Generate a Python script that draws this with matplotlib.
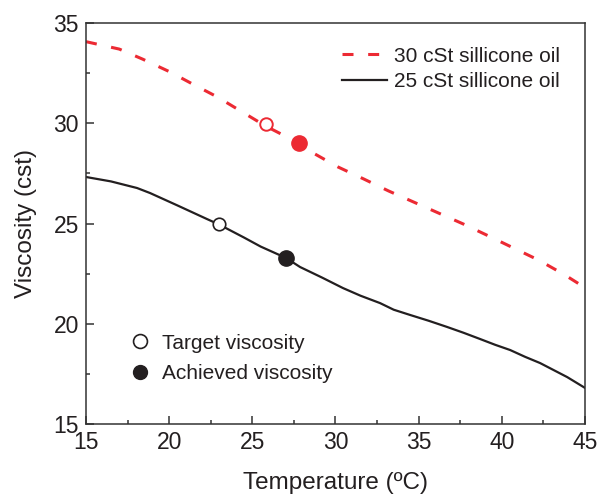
import numpy as np
import matplotlib
matplotlib.use('Agg')
import matplotlib.pyplot as plt
from matplotlib.ticker import MultipleLocator
from matplotlib.lines import Line2D

plt.rcParams['font.family'] = ['Liberation Sans', 'DejaVu Sans']

# 30 cSt sillicone oil (red dashed)
t_30 = [15.0, 17.0, 18.4, 20.05, 21.4, 22.9, 24.3, 25.8, 27.8, 28.65, 30.15, 31.7,
        33.2, 34.7, 36.2, 37.7, 39.2, 40.7, 42.2, 43.7, 45.0]
v_30 = [34.07, 33.7, 33.2, 32.56, 31.96, 31.31, 30.61, 29.86, 29.01, 28.52, 27.82, 27.22,
        26.62, 26.07, 25.52, 24.97, 24.38, 23.78, 23.18, 22.48, 21.8]

# 25 cSt sillicone oil (black solid)
t_25 = [15.0, 16.5, 18.07, 18.85, 20.5, 22.28, 23.0, 24.5, 25.5, 27.03, 27.87, 29.2, 30.45,
        31.5, 32.68, 33.5, 34.48, 35.6, 36.71, 37.7, 38.69, 39.6, 40.5, 41.4, 42.3, 43.93, 45.0]
v_25 = [27.32, 27.1, 26.77, 26.52, 25.9, 25.22, 24.95, 24.3, 23.85, 23.28, 22.83, 22.3, 21.78,
        21.4, 21.03, 20.7, 20.44, 20.15, 19.84, 19.55, 19.24, 18.95, 18.69, 18.35, 18.04, 17.34, 16.8]

# target / achieved points
target_t = [25.8, 23.0]
target_v = [29.95, 25.0]
achieved_t = [27.8, 27.0]
achieved_v = [29.01, 23.28]

red = '#ec2a33'
blk = '#231f20'

fig = plt.figure(figsize=(5.99, 4.94), dpi=100)
ax = fig.add_axes([0.1436, 0.1417, 0.833, 0.8117])

l30, = ax.plot(t_30, v_30, color=red, linewidth=2.2, dashes=(3.6, 4.8), label='30 cSt sillicone oil')
l25, = ax.plot(t_25, v_25, color=blk, linewidth=1.6, label='25 cSt sillicone oil')

ax.plot(target_t[0], target_v[0], 'o', ms=9, mfc='none', mec=red, mew=1.4, zorder=5)
ax.plot(target_t[1], target_v[1], 'o', ms=9, mfc='white', mec=blk, mew=1.2, zorder=5)
ax.plot(achieved_t[0], achieved_v[0], 'o', ms=11, color=red, zorder=5)
ax.plot(achieved_t[1], achieved_v[1], 'o', ms=11, color=blk, zorder=5)

ax.set_xlim(15, 45)
ax.set_ylim(15, 35)
ax.xaxis.set_major_locator(MultipleLocator(5))
ax.xaxis.set_minor_locator(MultipleLocator(2.5))
ax.yaxis.set_major_locator(MultipleLocator(5))
ax.yaxis.set_minor_locator(MultipleLocator(2.5))
ax.tick_params(which='both', direction='in', top=False, right=False, width=1.1, color='#333333')
ax.tick_params(which='major', length=6, labelsize=16.5, pad=5, labelcolor='#231f20')
ax.tick_params(which='minor', length=3)
plt.setp(ax.spines.values(), linewidth=1.1, color='#333333')

ax.set_xlabel('Temperature (ºC)', fontsize=17.5, color='#231f20', labelpad=13)
ax.set_ylabel('Viscosity (cst)', fontsize=17.5, color='#231f20', labelpad=12)

leg1 = ax.legend(handles=[l30, l25], loc='upper right', bbox_to_anchor=(0.987, 0.988), frameon=False,
                 fontsize=15, handlelength=2.2, handletextpad=0.3, labelspacing=0.3)
for txt in leg1.get_texts():
    txt.set_color('#231f20')
ax.add_artist(leg1)

h_t = Line2D([], [], linestyle='none', marker='o', ms=10, mfc='white', mec=blk, mew=1.2)
h_a = Line2D([], [], linestyle='none', marker='o', ms=10, color=blk)
leg2 = ax.legend(handles=[h_t, h_a], labels=['Target viscosity', 'Achieved viscosity'],
                 loc='lower left', bbox_to_anchor=(0.05, 0.055), frameon=False,
                 fontsize=15, handlelength=1.0, handletextpad=0.55, labelspacing=0.55)
for txt in leg2.get_texts():
    txt.set_color('#231f20')

fig.savefig('out.png', dpi=100)
